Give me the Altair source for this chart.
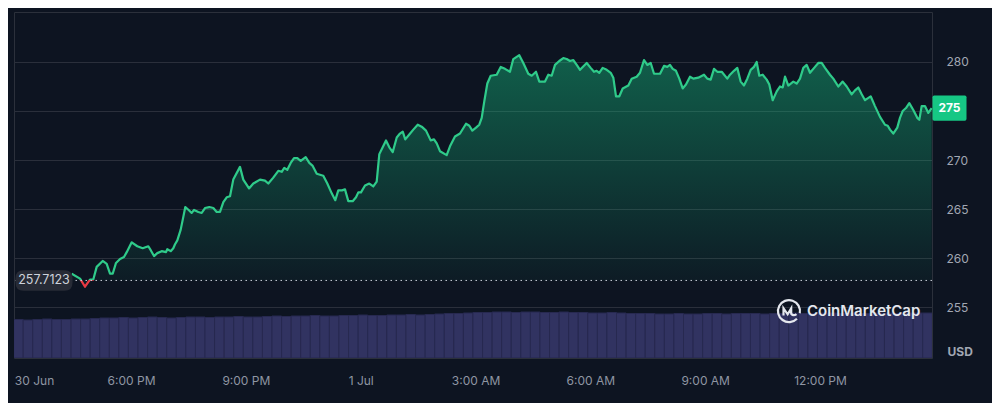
import altair as alt
import pandas as pd

# ---- data ----
# minutes after 30 Jun 15:00
minutes = [87.0, 100.1, 107.9, 115.7, 120.9, 126.2, 135.6, 141.9, 147.1, 151.3, 156.5, 162.8, 169.0, 173.3,
           181.1, 189.9, 198.3, 207.1, 210.9, 216.1, 221.2, 228.1, 234.9, 236.9, 242.2, 246.3, 249.0, 252.6,
           257.9, 262.0, 265.1, 270.4, 275.1, 278.8, 285.5, 290.8, 296.0, 302.7, 309.0, 314.3, 319.5, 324.7,
           330.0, 335.2, 340.3, 350.8, 356.0, 365.0, 371.7, 382.2, 390.0, 395.2, 403.0, 410.9, 416.2, 420.3,
           425.0, 430.3, 435.5, 440.7, 446.0, 453.8, 459.5, 464.8, 471.1, 476.2, 481.4, 487.7, 494.6, 500.2,
           504.9, 510.7, 515.4, 520.6, 527.5, 532.7, 536.3, 540.5, 546.8, 553.5, 559.8, 565.1, 569.2, 574.5,
           579.7, 584.9, 590.2, 596.5, 601.6, 605.9, 609.9, 616.2, 622.5, 629.4, 635.6, 642.4, 649.7, 654.9,
           659.2, 664.3, 674.8, 680.0, 687.8, 695.7, 705.1, 710.3, 715.0, 720.8, 725.9, 729.7, 733.8, 738.5,
           743.8, 753.2, 759.5, 766.2, 774.0, 779.2, 788.6, 794.9, 802.7, 808.1, 814.8, 820.0, 828.9, 834.1,
           839.4, 844.6, 851.3, 857.6, 862.9, 868.1, 873.3, 878.6, 883.8, 894.3, 900.5, 905.7, 909.9, 914.0,
           919.3, 925.6, 931.9, 936.0, 940.2, 945.4, 950.7, 959.5, 964.8, 972.6, 977.8, 984.1, 989.3, 994.6,
           999.8, 1009.2, 1015.4, 1020.6, 1024.8, 1029.1, 1034.2, 1039.4, 1044.7, 1049.9, 1056.2, 1061.4,
           1069.2, 1078.1, 1083.3, 1088.6, 1093.8, 1099.0, 1105.9, 1114.6, 1118.9, 1125.1, 1130.3, 1135.6,
           1140.8, 1146.0, 1151.3, 1156.5, 1160.7, 1164.8, 1170.1, 1176.4, 1180.5, 1185.8, 1192.1, 1197.2,
           1201.5, 1205.1, 1210.3, 1218.1, 1223.4, 1228.6, 1233.8, 1239.1, 1244.3, 1252.1, 1257.3, 1262.6,
           1267.8, 1275.6, 1280.8, 1288.6, 1295.5, 1301.8, 1309.6, 1314.8, 1320.0, 1325.3, 1330.5, 1339.4,
           1346.1, 1354.0, 1361.8, 1366.1, 1369.7, 1374.8, 1381.1, 1385.3, 1389.6, 1394.7, 1399.9, 1406.2,
           1412.4, 1415.6, 1419.3, 1424.5, 1429.7, 1435.0]
prices = [258.4, 257.9, 257.07, 257.8, 257.8, 259.1, 259.7, 259.4, 258.4, 258.4, 259.5, 259.9, 260.1, 260.6,
          261.6, 261.2, 261.0, 261.2, 260.8, 260.2, 260.5, 260.7, 260.6, 260.9, 260.7, 261.0, 261.4, 261.8,
          262.9, 264.2, 265.2, 264.9, 264.6, 264.9, 264.7, 264.6, 265.1, 265.2, 265.1, 264.7, 264.7, 265.7,
          266.2, 266.3, 268.0, 269.3, 268.0, 267.1, 267.6, 268.0, 267.9, 267.6, 268.2, 268.9, 268.8, 269.2,
          269.0, 269.7, 270.2, 270.2, 269.9, 270.3, 269.7, 269.4, 268.6, 268.5, 268.4, 267.6, 266.6, 265.9,
          266.9, 266.9, 267.0, 265.8, 265.8, 266.2, 266.7, 266.7, 267.4, 267.6, 267.3, 267.8, 270.6, 271.3,
          272.0, 271.3, 270.8, 272.3, 272.7, 272.9, 272.1, 272.6, 273.1, 273.6, 273.4, 273.0, 272.0, 272.1,
          271.7, 270.9, 270.5, 271.4, 272.4, 272.7, 273.7, 273.5, 273.0, 273.3, 273.6, 274.3, 276.0, 277.8,
          278.6, 278.7, 279.5, 279.3, 279.0, 280.3, 280.7, 279.9, 278.8, 278.6, 279.0, 278.0, 278.0, 278.7,
          278.6, 279.7, 280.1, 280.4, 280.3, 280.1, 280.2, 279.7, 279.2, 279.9, 279.4, 279.0, 279.1, 278.9,
          279.4, 279.2, 278.9, 278.4, 276.5, 276.5, 277.3, 277.6, 278.3, 278.5, 278.9, 280.2, 279.7, 279.9,
          278.8, 278.8, 279.6, 279.5, 279.7, 279.3, 279.1, 278.3, 277.3, 277.7, 278.5, 278.3,
          278.4, 278.7, 278.3, 278.2, 279.3, 279.0, 279.0, 278.3, 278.7, 279.1, 279.4, 278.0,
          277.6, 278.3, 279.2, 279.5, 280.0, 278.6, 278.7, 278.2, 277.7, 276.1, 277.0, 277.5,
          277.4, 278.5, 277.6, 278.0, 277.8, 278.3, 279.4, 279.7, 278.9, 279.5, 279.9, 279.9,
          279.4, 278.7, 278.3, 277.5, 278.0, 277.5, 276.7, 277.1, 277.4, 276.7, 276.1, 276.5,
          275.5, 274.4, 273.6, 273.5, 273.1, 272.7, 273.3, 274.3, 275.0, 275.3, 275.8, 275.1,
          274.3, 274.1, 275.5, 275.5, 274.8, 275.3]
baseline_price = 257.7123
baseline_label = "257.7123"

# volume bars, 15-minute buckets starting 30 Jun 14:56 (relative heights)
vol_start = -4
vol_step = 15
volumes = [38.5, 38, 38.5, 39, 38.5, 38.5, 39, 39, 39.5, 40,
           40, 40.5, 40, 40.5, 41, 40.5, 40, 40.5, 41, 41, 40.5, 41, 41, 41.5, 41, 41, 41.5, 42, 41.5, 42,
           42, 42.5, 42, 42, 42.5, 42.5, 43, 42.5, 42.5, 43, 43, 43.5, 43, 43.5, 44, 44.5, 44.5, 45, 45.5,
           45.5, 46, 46, 45.5, 46, 46, 45.5, 45.5, 46, 45.5, 45.5, 45, 45, 45.5, 45, 44.5, 44.5,
           44.5, 44, 44, 44.5, 44, 44, 44.5, 44.5, 44, 44.5, 44.5, 44.5, 44, 44.5, 44.5, 45, 44.5,
           44.5, 45, 45, 44.5, 45, 44.5, 44.5, 45, 45, 44.5, 45, 45, 45]

tick_minutes = [28, 180, 360, 540, 720, 900, 1080, 1260]
tick_labels = ["30 Jun", "6:00 PM", "9:00 PM", "1 Jul", "3:00 AM", "6:00 AM", "9:00 AM", "12:00 PM"]
price_ticks = [255, 260, 265, 270, 275, 280]

# ---- styling ----
W, H = 918, 346
BG = "#0d1421"
GREEN = "#16c784"
LINE_GREEN = "#2fcb8a"
RED = "#ea3943"
FONT = "Inter"

x_domain = [-3.4, 1435.5]
y_domain = [249.8, 285.1]

df = pd.DataFrame({"m": minutes, "p": prices})
vol_df = pd.DataFrame({
    "t0": [vol_start + i * vol_step for i in range(len(volumes))],
    "t1": [vol_start + (i + 1) * vol_step for i in range(len(volumes))],
    "v": volumes,
})

last_price = prices[-1]
badge_value = round(last_price)

label_expr = " : ".join(f"datum.value == {m} ? '{l}'" for m, l in zip(tick_minutes, tick_labels)) + " : ''"
# the axis label under the live-price badge is hidden by the badge itself
y_label_expr = f"datum.value == {badge_value} ? '' : datum.label"

x_scale = alt.Scale(domain=x_domain, nice=False, zero=False)
y_scale = alt.Scale(domain=y_domain, nice=False, zero=False)

x_axis = alt.Axis(values=tick_minutes, labelExpr=label_expr, grid=False, ticks=False, domain=False,
                  labelPadding=17, labelColor="#8f96a3", labelFontSize=12, labelFont=FONT,
                  labelFlush=False, title=None, labelOverlap=False)
y_axis = alt.Axis(orient="right", values=price_ticks, labelExpr=y_label_expr, grid=True,
                  gridColor="#2a2f3b", gridWidth=1,
                  ticks=False, domain=False, labelPadding=14, labelColor="#a1a7b3", labelFontSize=12,
                  labelFont=FONT, title="USD", titleAngle=0, titleAlign="left", titleBaseline="middle",
                  titleX=15, titleY=339, titleColor="#a1a7b3", titleFont=FONT, titleFontSize=12,
                  titleFontWeight="bold")

vol = alt.Chart(vol_df).mark_rect(color="#313361", stroke="#272950", strokeWidth=1, clip=True).encode(
    x=alt.X("t0:Q", scale=x_scale, axis=x_axis),
    x2="t1:Q",
    y=alt.Y("v:Q", scale=alt.Scale(domain=[0, H]), axis=None),
    y2=alt.Y2(datum=0),
)

area = alt.Chart(df).mark_area(
    fill=alt.Gradient(gradient="linear",
                      stops=[alt.GradientStop(color="rgba(22,199,132,0.42)", offset=0),
                             alt.GradientStop(color="rgba(22,199,132,0.03)", offset=1)],
                      x1=0, x2=0, y1=0, y2=1),
    line=False,
).encode(
    x=alt.X("m:Q", scale=x_scale, axis=x_axis),
    y=alt.Y("p:Q", scale=y_scale, axis=y_axis),
    y2=alt.Y2(datum=baseline_price),
)

pmax, pmin = max(prices), min(prices)
split = (pmax - baseline_price) / (pmax - pmin)
line = alt.Chart(df).mark_line(
    stroke=alt.Gradient(gradient="linear",
                        stops=[alt.GradientStop(color=LINE_GREEN, offset=0),
                               alt.GradientStop(color=LINE_GREEN, offset=split),
                               alt.GradientStop(color=RED, offset=split),
                               alt.GradientStop(color=RED, offset=1)],
                        x1=0, x2=0, y1=0, y2=1),
    strokeWidth=2.2, strokeJoin="round",
).encode(
    x=alt.X("m:Q", scale=x_scale, axis=x_axis),
    y=alt.Y("p:Q", scale=y_scale, axis=y_axis),
)

base_rule = alt.Chart().mark_rule(stroke="#c9ced8", strokeDash=[1.5, 3.5], strokeWidth=1).encode(
    y=alt.Y(datum=baseline_price, type="quantitative", scale=y_scale, axis=y_axis),
)

pill = ("M-0.72,-0.36 L0.72,-0.36 Q1,-0.36 1,-0.08 L1,0.08 Q1,0.36 0.72,0.36 "
        "L-0.72,0.36 Q-1,0.36 -1,0.08 L-1,-0.08 Q-1,-0.36 -0.72,-0.36 Z")
base_badge = alt.Chart().mark_point(shape=pill, size=57 * 57, filled=True, color="#272b36", opacity=1).encode(
    x=alt.value(30),
    y=alt.Y(datum=baseline_price, type="quantitative", scale=y_scale, axis=y_axis),
)
base_text = alt.Chart().mark_text(text=baseline_label, color="#cdd2db", fontSize=12.5, font=FONT,
                                  align="center", baseline="middle").encode(
    x=alt.value(30),
    y=alt.Y(datum=baseline_price, type="quantitative", scale=y_scale, axis=y_axis),
)

box = "M-0.9,-0.74 L0.9,-0.74 Q1,-0.74 1,-0.64 L1,0.64 Q1,0.74 0.9,0.74 L-0.9,0.74 Q-1,0.74 -1,0.64 L-1,-0.64 Q-1,-0.74 -0.9,-0.74 Z"
price_badge = alt.Chart().mark_point(shape=box, size=34 * 34, filled=True, color=GREEN, opacity=1).encode(
    x=alt.value(W + 17.5),
    y=alt.Y(datum=last_price, type="quantitative", scale=y_scale, axis=y_axis),
)
price_text = alt.Chart().mark_text(text=f"{badge_value}", color="#ffffff", fontSize=12, font=FONT,
                                   fontWeight="bold", align="center", baseline="middle").encode(
    x=alt.value(W + 17.5),
    y=alt.Y(datum=last_price, type="quantitative", scale=y_scale, axis=y_axis),
)

logo_path = ("M0.72,0.7 A1,1 0 1 1 0.98,0.2 "
             "M-0.5,0.4 L-0.5,-0.25 L-0.12,0.3 L0.2,-0.25 L0.2,0.25 Q0.4,0.5 0.68,0.28")
logo = alt.Chart().mark_point(shape=logo_path, size=22 * 22, filled=False, stroke="#e4e7ee",
                              strokeWidth=2.2, opacity=1).encode(
    x=alt.value(775), y=alt.value(299))
logo_text = alt.Chart().mark_text(text="CoinMarketCap", color="#e4e7ee", fontSize=15, font=FONT,
                                  fontWeight=600, align="left", baseline="middle").encode(
    x=alt.value(793), y=alt.value(299))

price_layer = alt.layer(area, line, base_rule, base_badge, base_text, price_badge, price_text)

chart = alt.layer(vol, price_layer, logo, logo_text).resolve_scale(y="independent").properties(
    width=W, height=H,
    background=BG,
    padding={"left": 6, "top": 4, "right": 60, "bottom": 45},
    autosize=alt.AutoSizeParams(type="none"),
).configure_view(stroke="#2b303b", strokeWidth=1)

chart.save("out.html", embed_options={"renderer": "svg", "actions": False})
